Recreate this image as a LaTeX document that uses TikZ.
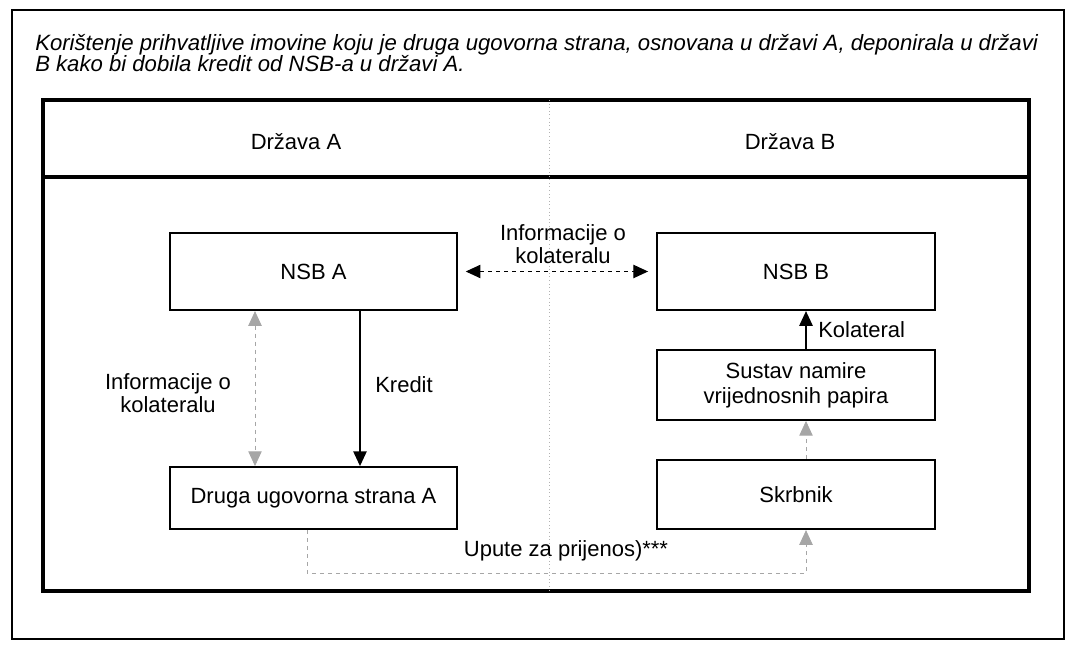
\documentclass[tikz,border=0pt]{standalone}
\usepackage{fontspec}
\setmainfont{Liberation Sans}
\usetikzlibrary{arrows.meta,positioning}

\begin{document}
\begin{tikzpicture}[x=0.75pt,y=-0.75pt,
    box/.style={draw,line width=1.4pt,inner sep=0pt,align=center,
        font=\fontsize{16.5}{18.5}\selectfont},
    lbl/.style={inner sep=0pt,align=center,font=\fontsize{16.5}{17}\selectfont},
    tip/.style={-{Triangle[length=11pt,width=10pt]}},
    dtip/.style={{Triangle[length=11pt,width=10pt]}-{Triangle[length=11pt,width=10pt]}},
    grey dash/.style={gray!70,dashed,line width=0.6pt}]
    \useasboundingbox (0,0) rectangle (1075,648);

    % outer frame and title
    \draw[line width=1.8pt] (12,10) rectangle (1064,639);
    \node[anchor=base west,inner sep=0pt,font=\itshape\fontsize{16.6}{17}\selectfont] (title1) at (35,51)
        {Korištenje prihvatljive imovine koju je druga ugovorna strana, osnovana u državi A, deponirala u državi};
    \node[anchor=base west,inner sep=0pt,font=\itshape\fontsize{16.6}{17}\selectfont] (title2) at (35,72)
        {B kako bi dobila kredit od NSB-a u državi A.};

    % inner frame with header row
    \draw[line width=2.4pt] (43,100) rectangle (1029,591);
    \draw[line width=2.4pt] (43,177) -- (1029,177);
    \draw[gray!60,dotted,line width=0.7pt] (549,100) -- (549,591);
    \foreach \x/\name in {296/A,790/B}{
        \node[lbl] (drz\name) at (\x,142) {Država \name};
    }

    % boxes
    \node[box,minimum width=215pt,minimum height=58pt] (nsba) at (313.5,271.5) {NSB A};
    \node[box,minimum width=208.5pt,minimum height=58pt] (nsbb) at (796,271.5) {NSB B};
    \node[box,minimum width=208.5pt,minimum height=52.5pt] (sustav) at (796,385)
        {Sustav namire\\vrijednosnih papira};
    \node[box,minimum width=208.5pt,minimum height=52pt] (skrbnik) at (796,494.5) {Skrbnik};
    \node[box,minimum width=215pt,minimum height=46.5pt] (druga) at (313.5,498) {Druga ugovorna strana A};

    % where the connectors leave the boxes
    \coordinate (infoL) at (255,0);
    \coordinate (kred) at (360,0);
    \coordinate (kol) at (806,0);
    \coordinate (upL) at (307,0);
    \coordinate (bot) at (556,573);

    % connectors
    \draw[dtip,dashed,line width=0.8pt,shorten <=6pt,shorten >=6pt] (nsba.east) -- (nsbb.west);
    \draw[dtip,grey dash] (nsba.south -| infoL) -- (druga.north -| infoL);
    \draw[tip,line width=1pt] (nsba.south -| kred) -- (druga.north -| kred);
    \draw[tip,line width=1pt] (sustav.north -| kol) -- (nsbb.south -| kol);
    \draw[tip,grey dash] (skrbnik.north -| kol) -- (sustav.south -| kol);
    \draw[tip,grey dash] (druga.south -| upL) |- (bot) -| (skrbnik.south -| kol);

    % labels
    \node[lbl] (lblinfo) at (563,244) {Informacije o\\kolateralu};
    \node[lbl] (lblinfoL) at (168,393) {Informacije o\\kolateralu};
    \node[lbl,anchor=west] (lblkred) at (375,385) {Kredit};
    \node[lbl,anchor=west] (lblkol) at (818,330) {Kolateral};
    \node[lbl] (lblupute) at (566,551) {Upute za prijenos)***};
\end{tikzpicture}
\end{document}
